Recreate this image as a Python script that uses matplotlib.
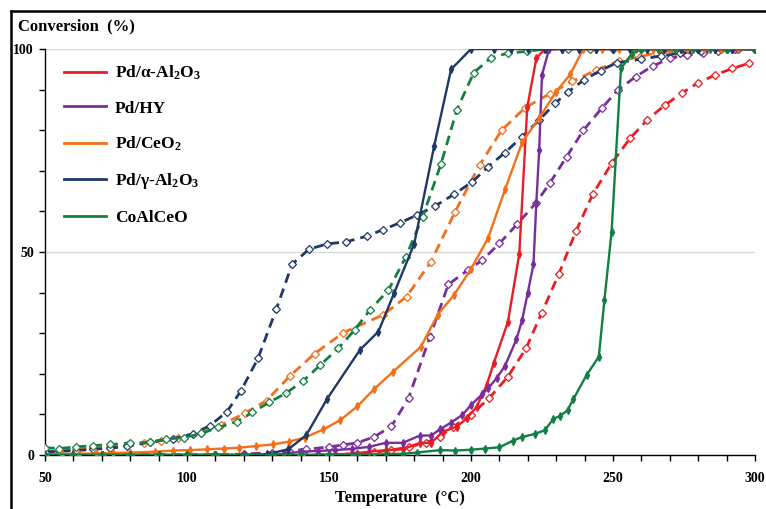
import matplotlib
matplotlib.use("Agg")
import matplotlib.pyplot as plt
from matplotlib.lines import Line2D
from matplotlib.ticker import MultipleLocator

plt.rcParams['font.family'] = ['Liberation Serif', 'DejaVu Serif']
plt.rcParams['font.weight'] = 'bold'
plt.rcParams['mathtext.fontset'] = 'custom'
plt.rcParams['mathtext.rm'] = 'Liberation Serif:bold'

# ---- data (temperature in C, conversion in %) ----
# Pd/a-Al2O3
t_red = [50, 60, 70, 80, 90, 100, 110, 120, 130, 140, 150, 158, 164, 170, 176, 182, 186, 190, 195,
         198.5, 202, 205.5, 208, 213, 217, 219.8, 223, 226, 232, 238, 244, 250, 256, 262, 268, 274,
         280, 286, 292, 300]
c_red = [0, 0, 0, 0, 0, 0, 0, 0, 0, 0, 0.1, 0.3, 0.8, 1.2, 1.4, 3, 3, 5.7, 7,
         9, 11.9, 17.2, 22.6, 32.8, 49.5, 85.6, 97.7, 100, 100, 100, 100, 100, 100, 100, 100, 100,
         100, 100, 100, 100]
t_red_d = [50, 60, 70, 80, 90, 100, 110, 120, 130, 140, 150, 160, 166, 172, 178, 184, 189, 193.8,
           200, 206.4, 213, 219.4, 224.9, 231, 237, 243, 249.7, 256, 262, 268.3, 274.2, 280, 286,
           292, 298]
c_red_d = [0, 0, 0, 0, 0, 0, 0, 0, 0, 0, 0.1, 0.3, 0.7, 1.2, 2, 3, 4.5, 7,
           9.9, 14, 19.3, 26.3, 35, 44.7, 55.2, 64.4, 72, 78, 82.5, 86.2, 89.1, 91.7, 93.6,
           95.2, 96.5]

# Pd/HY
t_pur = [50, 60, 70, 80, 90, 100, 110, 120, 130, 134, 140, 146, 152, 158, 164, 170, 176, 182, 186,
         189, 193, 197, 200, 204, 206, 209, 212, 216, 218, 220, 222, 223, 224, 225, 227.5, 232, 238,
         244, 250, 256, 262, 268, 274, 280, 286, 292, 300]
c_pur = [0, 0, 0, 0, 0, 0, 0, 0, 0, 0.3, 0.8, 1, 1.2, 1.5, 2, 3, 3, 4.8, 4.8,
         6.3, 8, 9.9, 12.3, 15, 16.4, 18.9, 22, 28.5, 33.2, 40, 47, 62, 75, 93.6, 100, 100, 100,
         100, 100, 100, 100, 100, 100, 100, 100, 100, 100]
t_pur_d = [50, 60, 70, 80, 90, 100, 110, 120, 130, 136, 142, 150, 155, 160, 166, 172, 178, 185.5,
           192, 199, 204, 210, 216.3, 222.9, 227.8, 233.7, 239.6, 246, 251.6, 258, 264, 270, 276,
           281.7, 287, 293, 300]
c_pur_d = [0, 0, 0, 0, 0, 0, 0, 0.2, 0.6, 1, 1.4, 2, 2.5, 3, 4.5, 7.1, 14, 29,
           42, 45.6, 48, 52.1, 56.9, 62.1, 67, 73.5, 80, 85.4, 89.8, 93.2, 95.8, 97.7, 98.5,
           99, 99.5, 100, 100]

# Pd/CeO2
t_ora = [50, 56, 62, 68, 74, 80, 88.7, 95, 101, 107, 113, 118.4, 124.3, 130.2, 136, 141.5, 148,
         154, 160, 166, 172.4, 182.4, 188.3, 194, 200, 206, 212, 218, 224, 230, 235, 239.5, 246,
         252, 258, 264, 270, 276, 282, 288, 294, 300]
c_ora = [0.2, 0.2, 0.3, 0.4, 0.5, 0.6, 0.8, 1.1, 1.2, 1.4, 1.6, 1.8, 2.2, 2.6, 3.3, 4.3, 6.3,
         8.6, 12, 16.3, 20.4, 26.7, 34.6, 39.4, 45.8, 53.4, 65.4, 77, 83, 89.5, 93.8, 100, 100,
         100, 100, 100, 100, 100, 100, 100, 100, 100]
t_ora_d = [50, 55, 61, 67, 73, 79, 85, 91, 97, 105, 112, 120.4, 128, 136.3, 145, 155, 169, 177.3,
           185.9, 194.4, 203, 210.8, 219, 227.8, 235.6, 244, 252, 259.5, 265, 272, 280, 290, 300]
c_ora_d = [0.8, 1, 1.4, 1.7, 2, 2.4, 3, 3.5, 4.2, 5.5, 7.4, 10.3, 13.4, 19.5, 25, 30.1, 34.5, 39,
           47.6, 59.9, 71.4, 80, 85.5, 89, 92, 94.8, 97, 98.1, 99, 99.6, 100, 100, 100]

# Pd/g-Al2O3
t_nav = [50, 60, 70, 80, 90, 100, 110, 120, 128, 135.7, 142, 149.4, 160.9, 167.4, 173, 180, 187,
         193, 200, 208, 214, 220, 226, 232, 238, 244, 250, 256, 262, 268, 274, 280, 286, 292, 300]
c_nav = [0, 0, 0, 0, 0, 0, 0, 0, 0.2, 1.4, 4.9, 13.9, 25.9, 30.4, 40, 52, 76,
         95, 100, 100, 100, 100, 100, 100, 100, 100, 100, 100, 100, 100, 100, 100, 100, 100, 100]
t_nav_d = [50, 55, 61, 67, 73, 79, 87, 95, 102, 108, 114, 119, 125, 131.5, 137, 143, 149.4, 156,
           163.3, 169, 175, 181, 187.3, 194, 200.5, 206, 212, 218, 224, 229.6, 234.3, 239.8, 245.6,
           251.3, 260, 267, 273.6, 281, 288, 294, 300]
c_nav_d = [0.8, 0.9, 1.1, 1.4, 1.7, 2.1, 3.2, 4, 5.2, 7.2, 10.6, 15.8, 23.8, 36, 47, 50.7, 52,
           52.5, 53.9, 55.5, 57.2, 59.1, 61.3, 64.2, 67.3, 71, 74.5, 78.4, 82.5, 86.6, 89.5, 92.4,
           94.7, 96.6, 97.5, 98.3, 99, 99.5, 100, 100, 100]

# CoAlCeO
t_grn = [50, 60, 70, 80, 90, 100, 110, 120, 130, 140, 150, 160, 170, 176, 181, 189, 194.4, 200,
         205, 210, 214.7, 217.8, 222.5, 226, 229, 231.3, 234, 236, 240.7, 245, 247, 249.5, 252.8,
         256.6, 260, 266, 272, 278, 284, 290, 300]
c_grn = [0, 0, 0, 0, 0, 0, 0, 0, 0, 0, 0, 0.1, 0.2, 0.3, 0.6, 1.2, 1.1, 1.3,
         1.6, 1.9, 3.5, 4.4, 5.2, 6.1, 8.9, 9.6, 11, 13.7, 19.7, 24.2, 38.3, 55, 95.2,
         98.8, 100, 100, 100, 100, 100, 100, 100]
t_grn_d = [50, 55, 61, 67, 73, 80, 87, 92.5, 99, 105, 111, 117.5, 123, 129, 135, 141, 147, 153.3,
           159, 164.4, 170.9, 177, 183, 189.4, 195, 201, 207, 213, 219.6, 226, 234, 242, 250, 260,
           270, 280, 290, 300]
c_grn_d = [1.8, 1.6, 2, 2.3, 2.6, 2.9, 3.1, 3.9, 4.3, 5.3, 6.8, 8.2, 10.5, 13, 15.3, 18.3, 22.2,
           26.3, 30.8, 35.7, 40.6, 48.7, 58.7, 71.6, 85, 94.2, 97.8, 99, 99.4, 100, 100, 100, 100,
           100, 100, 100, 100, 100]

labels = [r'Pd/α-Al$\mathregular{_2}$O$\mathregular{_3}$', 'Pd/HY', r'Pd/CeO$\mathregular{_2}$',
          r'Pd/γ-Al$\mathregular{_2}$O$\mathregular{_3}$', 'CoAlCeO']
colors = ['#EC1C24', '#7A2E9A', '#F2701C', '#1F3864', '#128042']
solid = [(t_red, c_red), (t_pur, c_pur), (t_ora, c_ora), (t_nav, c_nav), (t_grn, c_grn)]
dashed = [(t_red_d, c_red_d), (t_pur_d, c_pur_d), (t_ora_d, c_ora_d), (t_nav_d, c_nav_d),
          (t_grn_d, c_grn_d)]

fig = plt.figure(figsize=(7.66, 5.09), dpi=100)
ax = fig.add_axes([45 / 766, 1 - 455 / 509, 710 / 766, 406 / 509])

# dashed series with open diamonds
for (t, c), col in zip(dashed, colors):
    ax.plot(t, c, color=col, lw=2, linestyle=(0, (3.5, 2.2)), marker='D', ms=4.5,
            mfc='white', mec=col, mew=0.9, zorder=3)

# solid series with small filled markers
for (t, c), col, lab in zip(solid, colors, labels):
    ax.plot(t, c, color=col, lw=1.7, marker='d', ms=4, mfc=col, mec=col, zorder=4, label=lab)

ax.set_xlim(50, 300)
ax.set_ylim(0, 100)
ax.xaxis.set_major_locator(MultipleLocator(50))
ax.xaxis.set_minor_locator(MultipleLocator(10))
ax.yaxis.set_major_locator(MultipleLocator(50))
ax.yaxis.set_minor_locator(MultipleLocator(10))
ax.tick_params(which='both', direction='out', length=4, width=1, colors='black')
ax.tick_params(axis='both', labelsize=10, pad=4)
ax.tick_params(axis='x', pad=8)
for lab in ax.get_xticklabels() + ax.get_yticklabels():
    lab.set_fontweight('bold')
ax.yaxis.grid(True, which='major', color='#d9d9d9', lw=1)
ax.set_axisbelow(True)
for s in ['top', 'right']:
    ax.spines[s].set_visible(False)
for s in ['left', 'bottom']:
    ax.spines[s].set_linewidth(1)
    ax.spines[s].set_color('black')

ax.set_xlabel('Temperature  (°C)', fontsize=12, fontweight='bold', labelpad=4)
fig.text(18 / 766, 1 - 26 / 509, 'Conversion  (%)', fontsize=12, fontweight='bold',
         va='center', ha='left')

leg = ax.legend(loc='upper left', bbox_to_anchor=(0.015, 0.985), frameon=False, fontsize=12.5,
                handlelength=2.4, handletextpad=0.5, labelspacing=1.05, borderpad=0)
for h in leg.get_lines():
    h.set_marker('')
    h.set_linewidth(2)

# figure border (left and top visible)
fig.add_artist(Line2D([11 / 766, 11 / 766], [0, 1 - 11 / 509], color='black', lw=1.8))
fig.add_artist(Line2D([11 / 766, 1], [1 - 11 / 509, 1 - 11 / 509], color='black', lw=1.8))

fig.savefig('out.png', dpi=100)
